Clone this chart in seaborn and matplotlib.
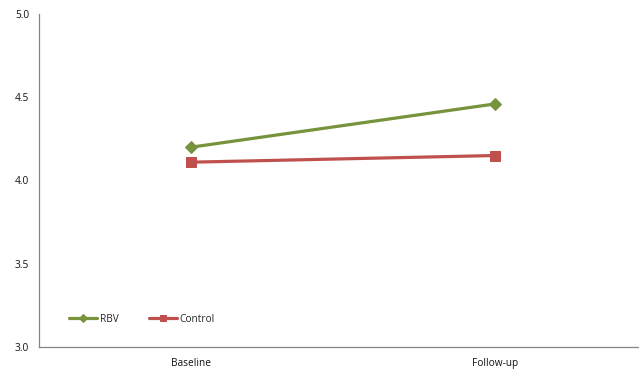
import matplotlib
matplotlib.use("Agg")
import matplotlib.pyplot as plt
import seaborn as sns
import pandas as pd
from matplotlib.ticker import FixedLocator, NullFormatter

categories = ["Baseline", "Follow-up"]
rbv = [4.20, 4.46]
control = [4.11, 4.15]
series_names = ["RBV", "Control"]
colors = ["#77933C", "#C0504D"]
markers = ["D", "s"]

df = pd.DataFrame({
    "time": categories * 2,
    "value": rbv + control,
    "group": [series_names[0]] * 2 + [series_names[1]] * 2,
})
df["x"] = df["time"].map({c: i for i, c in enumerate(categories)})

sns.set_style("white")
plt.rcParams["font.family"] = ["Open Sans", "DejaVu Sans"]

fig = plt.figure(figsize=(6.39, 3.72), dpi=100)
ax = fig.add_axes([39/639, 1 - 347/372, (638-39)/639, (347-14)/372])

for name, col, mk in zip(series_names, colors, markers):
    sub = df[df["group"] == name]
    sns.lineplot(data=sub, x="x", y="value", ax=ax, color=col, marker=mk,
                 markersize=7 if mk == "s" else 6, markeredgecolor=col,
                 linewidth=2.3, label=name)

ax.set_xlim(-0.5, 1.47)
ax.set_ylim(3.0, 5.0)
ax.set_yticks([3.0, 3.5, 4.0, 4.5, 5.0])
ax.set_yticklabels(["3.0", "3.5", "4.0", "4.5", "5.0"], fontsize=7.3, color="#111111")
ax.xaxis.set_major_locator(FixedLocator([-0.5, 0.5, 1.5]))
ax.xaxis.set_major_formatter(NullFormatter())
ax.xaxis.set_minor_locator(FixedLocator([0, 1]))
ax.set_xticklabels(categories, minor=True, fontsize=7.3, color="#111111")
ax.tick_params(axis="x", which="minor", length=0, pad=8)
ax.tick_params(axis="x", which="major", length=4, direction="out", color="#868686", width=0.8)
ax.tick_params(axis="y", length=4, direction="out", color="#868686", width=0.8, pad=3)
ax.set_xlabel("")
ax.set_ylabel("")
for s in ["top", "right"]:
    ax.spines[s].set_visible(False)
for s in ["left", "bottom"]:
    ax.spines[s].set_color("#868686")
    ax.spines[s].set_linewidth(0.9)

ax.legend(loc="lower left", bbox_to_anchor=(0.035, 0.04), ncol=2, frameon=False,
          fontsize=7.3, handlelength=2.8, columnspacing=3.0, handletextpad=0.2,
          markerscale=0.7)

fig.savefig("out.png", dpi=100)
